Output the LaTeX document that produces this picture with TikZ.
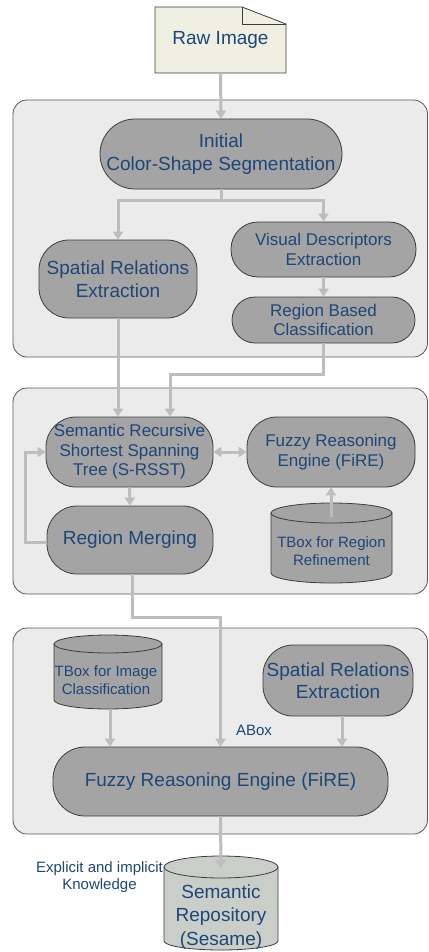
\documentclass[tikz,border=0pt]{standalone}
\usepackage{fontspec}
\setmainfont{Liberation Sans}
\usetikzlibrary{arrows.meta,calc}

\definecolor{panelfill}{HTML}{EBEBEB}
\definecolor{panelline}{HTML}{5A5A5A}
\definecolor{procfill}{HTML}{A4A4A4}
\definecolor{procline}{HTML}{3C3C3C}
\definecolor{txtblue}{HTML}{1E4677}
\definecolor{flowgray}{HTML}{BDBDBD}
\definecolor{notefill}{HTML}{EFEFE2}
\definecolor{repofill}{HTML}{C9CFC8}

\tikzset{
  panel/.style={draw=panelline, fill=panelfill, line width=0.8pt, rounded corners=14pt},
  proc/.style={draw=procline, fill=procfill, line width=0.8pt, inner sep=0pt,
               align=center, text=txtblue},
  lbl/.style={inner sep=0pt, align=center, text=txtblue},
  drum/.style={draw=procline, line width=0.8pt},
  flow/.style={draw=flowgray, line width=3pt, -{Triangle[width=10pt,length=8pt]}},
  flowboth/.style={draw=flowgray, line width=3pt,
                   {Triangle[width=10pt,length=8pt]}-{Triangle[width=10pt,length=8pt]}},
  big/.style={font=\fontsize{19}{22.5}\selectfont},
  mid/.style={font=\fontsize{17}{19.5}\selectfont},
  small/.style={font=\fontsize{15}{17.5}\selectfont},
}

\begin{document}
\begin{tikzpicture}[x=1pt,y=-1pt]
\useasboundingbox (0,0) rectangle (428,952);

% ---- background panels
\draw[panel] (13,100) rectangle (427.5,357);
\draw[panel] (13,388) rectangle (427.5,594);
\draw[panel] (13,628) rectangle (427.5,834);

% ---- raw image (document with folded corner)
\filldraw[drum, fill=notefill] (155,7) -- (242,7) -- (286,24) -- (286,73) -- (155,73) -- cycle;
\draw[drum] (242,7) -- (242,24) -- (286,24);
\node[lbl, big, minimum width=131pt, minimum height=66pt] (raw) at (220.5,40) {Raw Image};

% ---- stage 1
\node[proc, big, rounded corners=35pt, minimum width=242pt, minimum height=70pt]
  (init) at (221,154) {Initial\\Color-Shape Segmentation};
\node[proc, big, rounded corners=30pt, minimum width=158pt, minimum height=78pt]
  (spat1) at (118,279) {Spatial Relations\\Extraction};
\node[proc, mid, rounded corners=27pt, minimum width=185pt, minimum height=55pt]
  (vis) at (323.5,249.5) {Visual Descriptors\\Extraction};
\node[proc, mid, rounded corners=23pt, minimum width=183pt, minimum height=46pt]
  (rbc) at (323.5,320) {Region Based\\Classification};

% ---- stage 2
\node[proc, mid, rounded corners=30pt, minimum width=167pt, minimum height=70pt]
  (srsst) at (129.5,452) {Semantic Recursive\\Shortest Spanning\\Tree (S-RSST)};
\node[proc, mid, rounded corners=30pt, minimum width=168pt, minimum height=70pt]
  (fire1) at (331,452) {Fuzzy Reasoning\\Engine (FiRE)};
\node[proc, big, rounded corners=30pt, minimum width=166pt, minimum height=68pt]
  (merge) at (130,540) {Region Merging};

% TBox drum for region refinement
\filldraw[drum, fill=procfill] (271,513) -- (271,573)
  arc[start angle=180, end angle=360, x radius=60.5pt, y radius=10pt] -- (392,513)
  arc[start angle=0, end angle=180, x radius=60.5pt, y radius=10pt] -- cycle;
\draw[drum] (271,513) arc[start angle=180, end angle=360, x radius=60.5pt, y radius=10pt];
\node[lbl, small] (tboxr) at (331.5,551) {TBox for Region\\Refinement};
\coordinate (tboxrtop) at (331,517);

% ---- stage 3
\filldraw[drum, fill=procfill] (54,644) -- (54,700)
  arc[start angle=180, end angle=360, x radius=54pt, y radius=9pt] -- (162,644)
  arc[start angle=0, end angle=180, x radius=54pt, y radius=9pt] -- cycle;
\draw[drum] (54,644) arc[start angle=180, end angle=360, x radius=54pt, y radius=9pt];
\node[lbl, small] (tboxi) at (106,680) {TBox for Image\\Classification};
\coordinate (tboxibot) at (110,709);

\node[proc, big, rounded corners=30pt, minimum width=150pt, minimum height=71pt]
  (spat2) at (338,680.5) {Spatial Relations\\Extraction};
\node[proc, big, rounded corners=32pt, minimum width=335pt, minimum height=69pt]
  (fire2) at (220.5,781.5) {Fuzzy Reasoning Engine (FiRE)};

% ---- semantic repository drum
\filldraw[drum, fill=repofill] (164,867) -- (164,941)
  arc[start angle=180, end angle=360, x radius=57pt, y radius=9pt] -- (278,867)
  arc[start angle=0, end angle=180, x radius=57pt, y radius=11pt] -- cycle;
\draw[drum] (164,867) arc[start angle=180, end angle=360, x radius=57pt, y radius=11pt];
\node[lbl, big, font=\fontsize{19}{23.5}\selectfont] (repo) at (221,917) {Semantic\\Repository\\(Sesame)};
\coordinate (repotop) at (221,868);

% ---- free labels
\node[lbl, small] (abox) at (254,730) {ABox};
\node[lbl, small] (know) at (99.5,877) {Explicit and implicit\\Knowledge};

% ---- connectors
\draw[flow] (raw.south) -- (init.north);
\coordinate (split) at (221,200);
\draw[flow] (init.south) -- (split) -| (spat1.north);
\draw[flow] (split) -| (vis.north);
\draw[flow] (vis.south) -- (rbc.south |- rbc.north);

\draw[flow] (spat1.south) -- (spat1.south |- srsst.north);
\coordinate (rbcturn) at (170,374);
\draw[flow] (rbc.south) |- (rbcturn) -- (rbcturn |- srsst.north);

\draw[flowboth] (srsst.east) -- (fire1.west);
\draw[flow] (srsst.south) -- (merge.north);
\coordinate (loop) at (25,542);
\draw[flow] (merge.west |- loop) -- (loop) |- (srsst.west);
\draw[flow] (tboxrtop) -- (tboxrtop |- fire1.south);

\coordinate (mergeturn) at (132,617);
\draw[flow] (mergeturn |- merge.south) -- (mergeturn) -| (fire2.north);
\draw[flow] (tboxibot) -- (tboxibot |- fire2.north);
\draw[flow] (spat2.south) ++(4,0) coordinate (spatout) -- (spatout |- fire2.north);

\draw[flow] (fire2.south) -- (repotop);
\end{tikzpicture}
\end{document}
